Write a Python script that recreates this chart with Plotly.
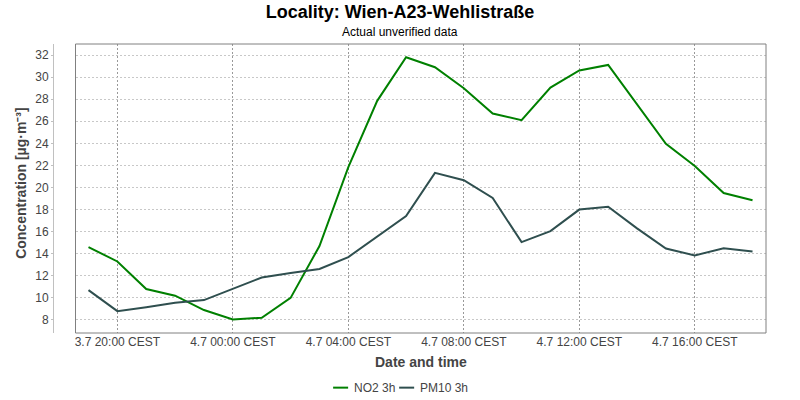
import plotly.graph_objects as go

times = [
    "2023-07-03 19:00", "2023-07-03 20:00", "2023-07-03 21:00", "2023-07-03 22:00",
    "2023-07-03 23:00", "2023-07-04 00:00", "2023-07-04 01:00", "2023-07-04 02:00",
    "2023-07-04 03:00", "2023-07-04 04:00", "2023-07-04 05:00", "2023-07-04 06:00",
    "2023-07-04 07:00", "2023-07-04 08:00", "2023-07-04 09:00", "2023-07-04 10:00",
    "2023-07-04 11:00", "2023-07-04 12:00", "2023-07-04 13:00", "2023-07-04 14:00",
    "2023-07-04 15:00", "2023-07-04 16:00", "2023-07-04 17:00", "2023-07-04 18:00",
]
no2 = [14.6, 13.3, 10.8, 10.2, 8.9, 8.05, 8.2, 10.0, 14.7, 21.85, 27.85, 31.8,
       30.9, 29.0, 26.7, 26.1, 29.05, 30.6, 31.1, 27.55, 23.95, 21.95, 19.5, 18.85]
pm10 = [10.7, 8.8, 9.15, 9.55, 9.8, 10.8, 11.85, 12.25, 12.62, 13.7, 15.55, 17.42,
        21.33, 20.66, 19.05, 15.05, 16.05, 18.0, 18.25, 16.3, 14.47, 13.85, 14.5, 14.2]
tick_vals = ["2023-07-03 20:00", "2023-07-04 00:00", "2023-07-04 04:00",
             "2023-07-04 08:00", "2023-07-04 12:00", "2023-07-04 16:00"]
tick_text = ["3.7 20:00 CEST", "4.7 00:00 CEST", "4.7 04:00 CEST",
             "4.7 08:00 CEST", "4.7 12:00 CEST", "4.7 16:00 CEST"]
series_names = ["NO2 3h", "PM10 3h"]
series_colors = ["#008000", "#2f4f4f"]

FONT = "Liberation Sans, Arial, sans-serif"

W, H = 800, 400
axis_line_x = 53
frame_left = 75.5
frame_right = 765.7
frame_top = 44
frame_bottom = 333.3
ml = axis_line_x
mr = W - frame_right
mt = frame_top
mb = H - frame_bottom
pw = W - ml - mr
ph = H - mt - mb


def px_x(x):
    return (x - ml) / pw


def px_y(y):
    return (H - mb - y) / ph


fig = go.Figure()
for name, vals, col in zip(series_names, [no2, pm10], series_colors):
    fig.add_trace(go.Scatter(x=times, y=vals, mode="lines", name=name,
                             line=dict(color=col, width=2), showlegend=False,
                             hoverinfo="skip"))

fig.update_layout(
    width=W, height=H,
    margin=dict(l=ml, r=mr, t=mt, b=mb, autoexpand=False),
    paper_bgcolor="white", plot_bgcolor="white",
    font=dict(family=FONT, size=12, color="#444444"),
    title=dict(text="<b>Locality: Wien-A23-Wehlistraße</b>", x=0.5,
               xref="container", xanchor="center",
               y=1 - 12 / H, yref="container", yanchor="middle",
               font=dict(size=18, color="black", family=FONT)),
    xaxis=dict(
        type="date",
        domain=[(frame_left - ml) / pw, 1],
        range=["2023-07-03 18:33", "2023-07-04 18:28"],
        tickvals=tick_vals, ticktext=tick_text,
        showgrid=True, gridcolor="#999999", griddash="2px,2px", gridwidth=1,
        ticks="", showline=False, zeroline=False,
        tickfont=dict(size=12, color="#444444"),
    ),
    yaxis=dict(
        anchor="free", position=0,
        range=[6.82, 33.0],
        tickvals=[8, 10, 12, 14, 16, 18, 20, 22, 24, 26, 28, 30, 32],
        showgrid=True, gridcolor="#c8c8c8", griddash="2px,2px", gridwidth=1,
        showline=True, linecolor="#c0c0c0", linewidth=1,
        ticks="outside", ticklen=2, tickcolor="#c0c0c0",
        zeroline=False,
        tickfont=dict(size=12, color="#444444"),
    ),
)

# plot frame
fig.add_shape(type="rect", xref="x domain", yref="y domain", x0=0, x1=1, y0=0, y1=1,
              line=dict(color="#808080", width=1), layer="above")

# subtitle
fig.add_annotation(text="Actual unverified data", xref="paper", yref="paper",
                   x=px_x(400), y=px_y(31.5), showarrow=False, xanchor="center",
                   yanchor="middle", font=dict(size=12, color="black", family=FONT))
# axis titles
fig.add_annotation(text="<b>Date and time</b>", xref="paper", yref="paper",
                   x=px_x((frame_left + frame_right) / 2), y=px_y(362), showarrow=False,
                   xanchor="center", yanchor="middle",
                   font=dict(size=14, color="#444444", family=FONT))
fig.add_annotation(text="<b>Concentration [µg·m⁻³]</b>", xref="paper", yref="paper",
                   x=px_x(21), y=px_y(183), showarrow=False, textangle=-90,
                   xanchor="center", yanchor="middle",
                   font=dict(size=14, color="#444444", family=FONT))

# custom legend
leg_y = px_y(388)
leg_items = [(333, 352), (399, 418)]
for (lx, tx), name, col in zip(leg_items, series_names, series_colors):
    fig.add_shape(type="line", xref="paper", yref="paper", x0=px_x(lx), x1=px_x(lx + 15),
                  y0=leg_y, y1=leg_y, line=dict(color=col, width=2))
    fig.add_annotation(text=name, xref="paper", yref="paper", x=px_x(tx), y=leg_y,
                       showarrow=False, xanchor="left", yanchor="middle",
                       font=dict(size=12, color="#444444", family=FONT))

fig.write_html("out.html",
               config={"displayModeBar": False},
               post_script="document.body.style.margin='0';"
                           "document.body.style.overflow='hidden';")
